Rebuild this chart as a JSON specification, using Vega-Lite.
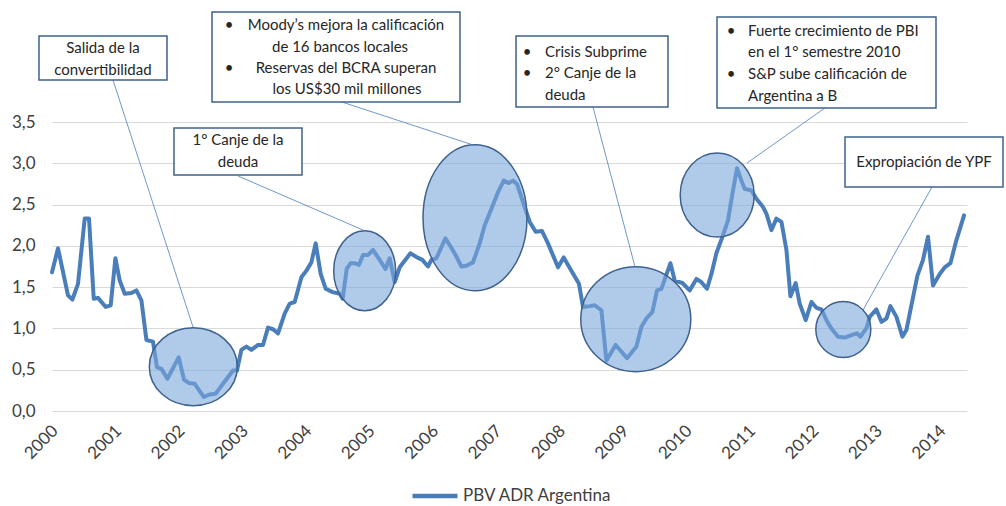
{
  "$schema": "https://vega.github.io/schema/vega-lite/v6.json",
  "width": 915,
  "height": 411,
  "autosize": {"type": "none"},
  "padding": {"left": 52, "top": 0, "right": 39, "bottom": 95},
  "background": "white",
  "config": {"view": {"stroke": null}, "font": "Lato"},
  "datasets": {
    "series": [
      {"t":2000.000,"v":1.68},{"t":2000.095,"v":1.97},{"t":2000.252,"v":1.40},{"t":2000.322,"v":1.35},{"t":2000.410,"v":1.54},
      {"t":2000.516,"v":2.33},{"t":2000.584,"v":2.33},{"t":2000.658,"v":1.36},{"t":2000.726,"v":1.37},{"t":2000.847,"v":1.26},
      {"t":2000.926,"v":1.28},{"t":2001.000,"v":1.85},{"t":2001.068,"v":1.58},{"t":2001.147,"v":1.42},{"t":2001.252,"v":1.43},
      {"t":2001.331,"v":1.46},{"t":2001.410,"v":1.34},{"t":2001.489,"v":0.86},{"t":2001.593,"v":0.84},{"t":2001.656,"v":0.53},
      {"t":2001.726,"v":0.51},{"t":2001.820,"v":0.39},{"t":2001.998,"v":0.65},{"t":2002.082,"v":0.38},{"t":2002.156,"v":0.34},
      {"t":2002.251,"v":0.33},{"t":2002.393,"v":0.17},{"t":2002.487,"v":0.20},{"t":2002.582,"v":0.21},{"t":2002.697,"v":0.33},
      {"t":2002.855,"v":0.49},{"t":2002.918,"v":0.49},{"t":2002.987,"v":0.74},{"t":2003.066,"v":0.78},{"t":2003.145,"v":0.74},
      {"t":2003.249,"v":0.80},{"t":2003.328,"v":0.80},{"t":2003.407,"v":1.01},{"t":2003.486,"v":0.99},{"t":2003.565,"v":0.94},
      {"t":2003.670,"v":1.18},{"t":2003.749,"v":1.30},{"t":2003.828,"v":1.32},{"t":2003.934,"v":1.62},{"t":2004.013,"v":1.70},
      {"t":2004.091,"v":1.80},{"t":2004.159,"v":2.03},{"t":2004.238,"v":1.66},{"t":2004.317,"v":1.48},{"t":2004.427,"v":1.44},
      {"t":2004.538,"v":1.42},{"t":2004.585,"v":1.36},{"t":2004.648,"v":1.72},{"t":2004.711,"v":1.79},{"t":2004.774,"v":1.79},
      {"t":2004.842,"v":1.77},{"t":2004.905,"v":1.89},{"t":2004.984,"v":1.89},{"t":2005.063,"v":1.95},{"t":2005.169,"v":1.83},
      {"t":2005.259,"v":1.72},{"t":2005.326,"v":1.85},{"t":2005.405,"v":1.56},{"t":2005.484,"v":1.74},{"t":2005.653,"v":1.91},
      {"t":2005.757,"v":1.86},{"t":2005.842,"v":1.83},{"t":2005.931,"v":1.75},{"t":2005.984,"v":1.83},{"t":2006.063,"v":1.85},
      {"t":2006.205,"v":2.09},{"t":2006.273,"v":2.01},{"t":2006.379,"v":1.87},{"t":2006.457,"v":1.75},{"t":2006.536,"v":1.76},
      {"t":2006.640,"v":1.80},{"t":2006.746,"v":2.03},{"t":2006.825,"v":2.25},{"t":2006.931,"v":2.45},{"t":2007.035,"v":2.65},
      {"t":2007.125,"v":2.79},{"t":2007.203,"v":2.76},{"t":2007.271,"v":2.79},{"t":2007.334,"v":2.75},{"t":2007.429,"v":2.53},
      {"t":2007.535,"v":2.29},{"t":2007.629,"v":2.17},{"t":2007.729,"v":2.18},{"t":2007.823,"v":2.03},{"t":2007.981,"v":1.74},
      {"t":2008.071,"v":1.86},{"t":2008.192,"v":1.70},{"t":2008.312,"v":1.54},{"t":2008.375,"v":1.26},{"t":2008.481,"v":1.27},
      {"t":2008.560,"v":1.28},{"t":2008.666,"v":1.22},{"t":2008.744,"v":0.61},{"t":2008.891,"v":0.80},{"t":2009.069,"v":0.64},
      {"t":2009.218,"v":0.78},{"t":2009.297,"v":1.02},{"t":2009.375,"v":1.12},{"t":2009.470,"v":1.20},{"t":2009.543,"v":1.46},
      {"t":2009.612,"v":1.48},{"t":2009.754,"v":1.79},{"t":2009.822,"v":1.58},{"t":2009.943,"v":1.55},{"t":2010.058,"v":1.46},
      {"t":2010.164,"v":1.60},{"t":2010.243,"v":1.56},{"t":2010.331,"v":1.48},{"t":2010.401,"v":1.66},{"t":2010.479,"v":1.91},
      {"t":2010.584,"v":2.13},{"t":2010.662,"v":2.31},{"t":2010.732,"v":2.63},{"t":2010.804,"v":2.94},{"t":2010.874,"v":2.79},
      {"t":2010.926,"v":2.69},{"t":2011.032,"v":2.67},{"t":2011.110,"v":2.57},{"t":2011.215,"v":2.47},{"t":2011.268,"v":2.39},
      {"t":2011.347,"v":2.19},{"t":2011.426,"v":2.33},{"t":2011.505,"v":2.29},{"t":2011.584,"v":1.95},{"t":2011.647,"v":1.39},
      {"t":2011.730,"v":1.55},{"t":2011.793,"v":1.30},{"t":2011.888,"v":1.10},{"t":2011.978,"v":1.32},{"t":2012.057,"v":1.25},
      {"t":2012.136,"v":1.23},{"t":2012.215,"v":1.10},{"t":2012.293,"v":1.00},{"t":2012.397,"v":0.90},{"t":2012.503,"v":0.89},
      {"t":2012.609,"v":0.92},{"t":2012.697,"v":0.94},{"t":2012.751,"v":0.90},{"t":2012.845,"v":1.00},{"t":2012.897,"v":1.14},
      {"t":2013.003,"v":1.23},{"t":2013.082,"v":1.08},{"t":2013.161,"v":1.12},{"t":2013.224,"v":1.27},{"t":2013.319,"v":1.14},
      {"t":2013.413,"v":0.90},{"t":2013.476,"v":0.98},{"t":2013.571,"v":1.34},{"t":2013.650,"v":1.64},{"t":2013.738,"v":1.83},
      {"t":2013.817,"v":2.11},{"t":2013.896,"v":1.52},{"t":2014.002,"v":1.66},{"t":2014.080,"v":1.74},{"t":2014.170,"v":1.79},
      {"t":2014.265,"v":2.07},{"t":2014.385,"v":2.37}
    ],
    "ellipses": [
      {"id":"e1","t":2002.229,"v":0.537},
      {"id":"e2","t":2004.932,"v":1.699},
      {"id":"e3","t":2006.672,"v":2.340},
      {"id":"e4","t":2009.208,"v":1.112},
      {"id":"e5","t":2010.492,"v":2.616},
      {"id":"e6","t":2012.481,"v":0.987}
    ],
    "leaders": [
      {"t":2000.962,"v":4.009,"t2":2002.224,"v2":1.017},
      {"t":2004.574,"v":3.742,"t2":2006.640,"v2":3.222},
      {"t":2002.934,"v":2.846,"t2":2004.905,"v2":2.192},
      {"t":2008.533,"v":3.682,"t2":2009.196,"v2":1.744},
      {"t":2012.192,"v":3.670,"t2":2010.962,"v2":3.003},
      {"t":2013.880,"v":2.713,"t2":2012.792,"v2":1.223}
    ],
    "boxes": [
      {"t":1999.795,"t2":2001.814,"v":4.542,"v2":4.009},
      {"t":2002.524,"t2":2006.435,"v":4.832,"v2":3.742},
      {"t":2001.924,"t2":2003.943,"v":3.427,"v2":2.858},
      {"t":2007.319,"t2":2009.716,"v":4.542,"v2":3.682},
      {"t":2010.489,"t2":2013.943,"v":4.772,"v2":3.670},
      {"t":2012.508,"t2":2015.000,"v":3.318,"v2":2.713}
    ],
    "textCenter": [
      {"label":"Salida de la","t":2000.804,"v":4.396},
      {"label":"convertibilidad","t":2000.804,"v":4.130},
      {"label":"Moody’s mejora la calificación","t":2004.637,"v":4.675},
      {"label":"de 16 bancos locales","t":2004.543,"v":4.408},
      {"label":"Reservas del BCRA superan","t":2004.637,"v":4.154},
      {"label":"los US$30 mil millones","t":2004.653,"v":3.900},
      {"label":"1° Canje de la","t":2002.934,"v":3.282},
      {"label":"deuda","t":2002.934,"v":3.016},
      {"label":"Expropiación de YPF","t":2013.754,"v":3.016}
    ],
    "textLeft": [
      {"label":"Crisis Subprime","t":2007.776,"v":4.348},
      {"label":"2° Canje de la","t":2007.776,"v":4.093},
      {"label":"deuda","t":2007.776,"v":3.827},
      {"label":"Fuerte crecimiento de PBI","t":2010.978,"v":4.602},
      {"label":"en el 1° semestre 2010","t":2010.978,"v":4.348},
      {"label":"S&P sube calificación de","t":2010.978,"v":4.081},
      {"label":"Argentina a B","t":2010.978,"v":3.815}
    ],
    "bullets": [
      {"label":"•","t":2002.792,"v":4.675},
      {"label":"•","t":2002.792,"v":4.154},
      {"label":"•","t":2007.492,"v":4.348},
      {"label":"•","t":2007.492,"v":4.093},
      {"label":"•","t":2010.710,"v":4.602},
      {"label":"•","t":2010.710,"v":4.081}
    ]
  },
  "encoding": {
    "x": {"field": "t", "type": "quantitative",
          "scale": {"domain": [2000, 2014.432], "nice": false, "zero": false},
          "axis": {"title": null, "values": [2000,2001,2002,2003,2004,2005,2006,2007,2008,2009,2010,2011,2012,2013,2014],
                   "format": "d", "labelAngle": -45, "labelAlign": "right", "labelBaseline": "middle",
                   "labelPadding": 17, "labelOffset": 3, "ticks": false, "domain": false, "grid": false,
                   "labelFontSize": 17, "labelColor": "#404040", "labelFont": "Lato"}},
    "y": {"field": "v", "type": "quantitative",
          "scale": {"domain": [0, 4.9776], "nice": false, "zero": true},
          "axis": {"title": null, "values": [0,0.5,1,1.5,2,2.5,3,3.5], "format": ".1f",
                   "labelExpr": "replace(datum.label, '.', ',')",
                   "ticks": false, "domain": false, "grid": true, "gridColor": "#d9d9d9", "gridWidth": 1.2,
                   "labelPadding": 17, "labelFontSize": 17, "labelColor": "#404040", "labelFont": "Lato"}}
  },
  "layer": [
    {
      "data": {"name": "series"},
      "mark": {"type": "line", "strokeWidth": 4, "strokeJoin": "round", "strokeCap": "round"},
      "encoding": {
        "color": {"datum": "PBV ADR Argentina", "type": "nominal",
                  "scale": {"range": ["#4a7ebb"]},
                  "legend": {"title": null, "orient": "none", "legendX": 358, "legendY": 471, "padding": 0,
                             "symbolType": "stroke", "symbolSize": 2025, "symbolStrokeWidth": 4.5,
                             "labelFontSize": 17, "labelColor": "#404040", "labelFont": "Lato", "labelOffset": 3}}
      }
    },
    {
      "data": {"name": "ellipses"},
      "mark": {"type": "point", "filled": true, "size": 4, "fill": "#7ba7dc", "fillOpacity": 0.6, "opacity": 1,
               "stroke": "#3f618d", "strokeWidth": 1.5, "strokeOpacity": 1},
      "encoding": {
        "shape": {"field": "id", "type": "nominal", "legend": null,
                  "scale": {"domain": ["e1","e2","e3","e4","e5","e6"],
                            "range": [
                              "M -44 0 A 44 39 0 1 0 44 0 A 44 39 0 1 0 -44 0 Z",
                              "M -31 0 A 31 40 0 1 0 31 0 A 31 40 0 1 0 -31 0 Z",
                              "M -52 0 A 52 73 0 1 0 52 0 A 52 73 0 1 0 -52 0 Z",
                              "M -55 0 A 55 52.5 0 1 0 55 0 A 55 52.5 0 1 0 -55 0 Z",
                              "M -37 0 A 37 42 0 1 0 37 0 A 37 42 0 1 0 -37 0 Z",
                              "M -27.5 0 A 27.5 28 0 1 0 27.5 0 A 27.5 28 0 1 0 -27.5 0 Z"
                            ]}}
      }
    },
    {
      "data": {"name": "leaders"},
      "mark": {"type": "rule", "color": "#4a7ebb", "strokeWidth": 0.8},
      "encoding": {
        "x2": {"field": "t2"},
        "y2": {"field": "v2"}
      }
    },
    {
      "data": {"name": "boxes"},
      "mark": {"type": "rect", "fill": "white", "stroke": "#3f618d", "strokeWidth": 1.5},
      "encoding": {
        "x2": {"field": "t2"},
        "y2": {"field": "v2"}
      }
    },
    {
      "data": {"name": "textCenter"},
      "mark": {"type": "text", "align": "center", "baseline": "middle", "fontSize": 15, "font": "Lato", "color": "#262626"},
      "encoding": {"text": {"field": "label"}}
    },
    {
      "data": {"name": "textLeft"},
      "mark": {"type": "text", "align": "left", "baseline": "middle", "fontSize": 15, "font": "Lato", "color": "#262626"},
      "encoding": {"text": {"field": "label"}}
    },
    {
      "data": {"name": "bullets"},
      "mark": {"type": "text", "align": "center", "baseline": "middle", "fontSize": 15, "font": "Lato", "color": "#262626"},
      "encoding": {"text": {"field": "label"}}
    }
  ]
}
